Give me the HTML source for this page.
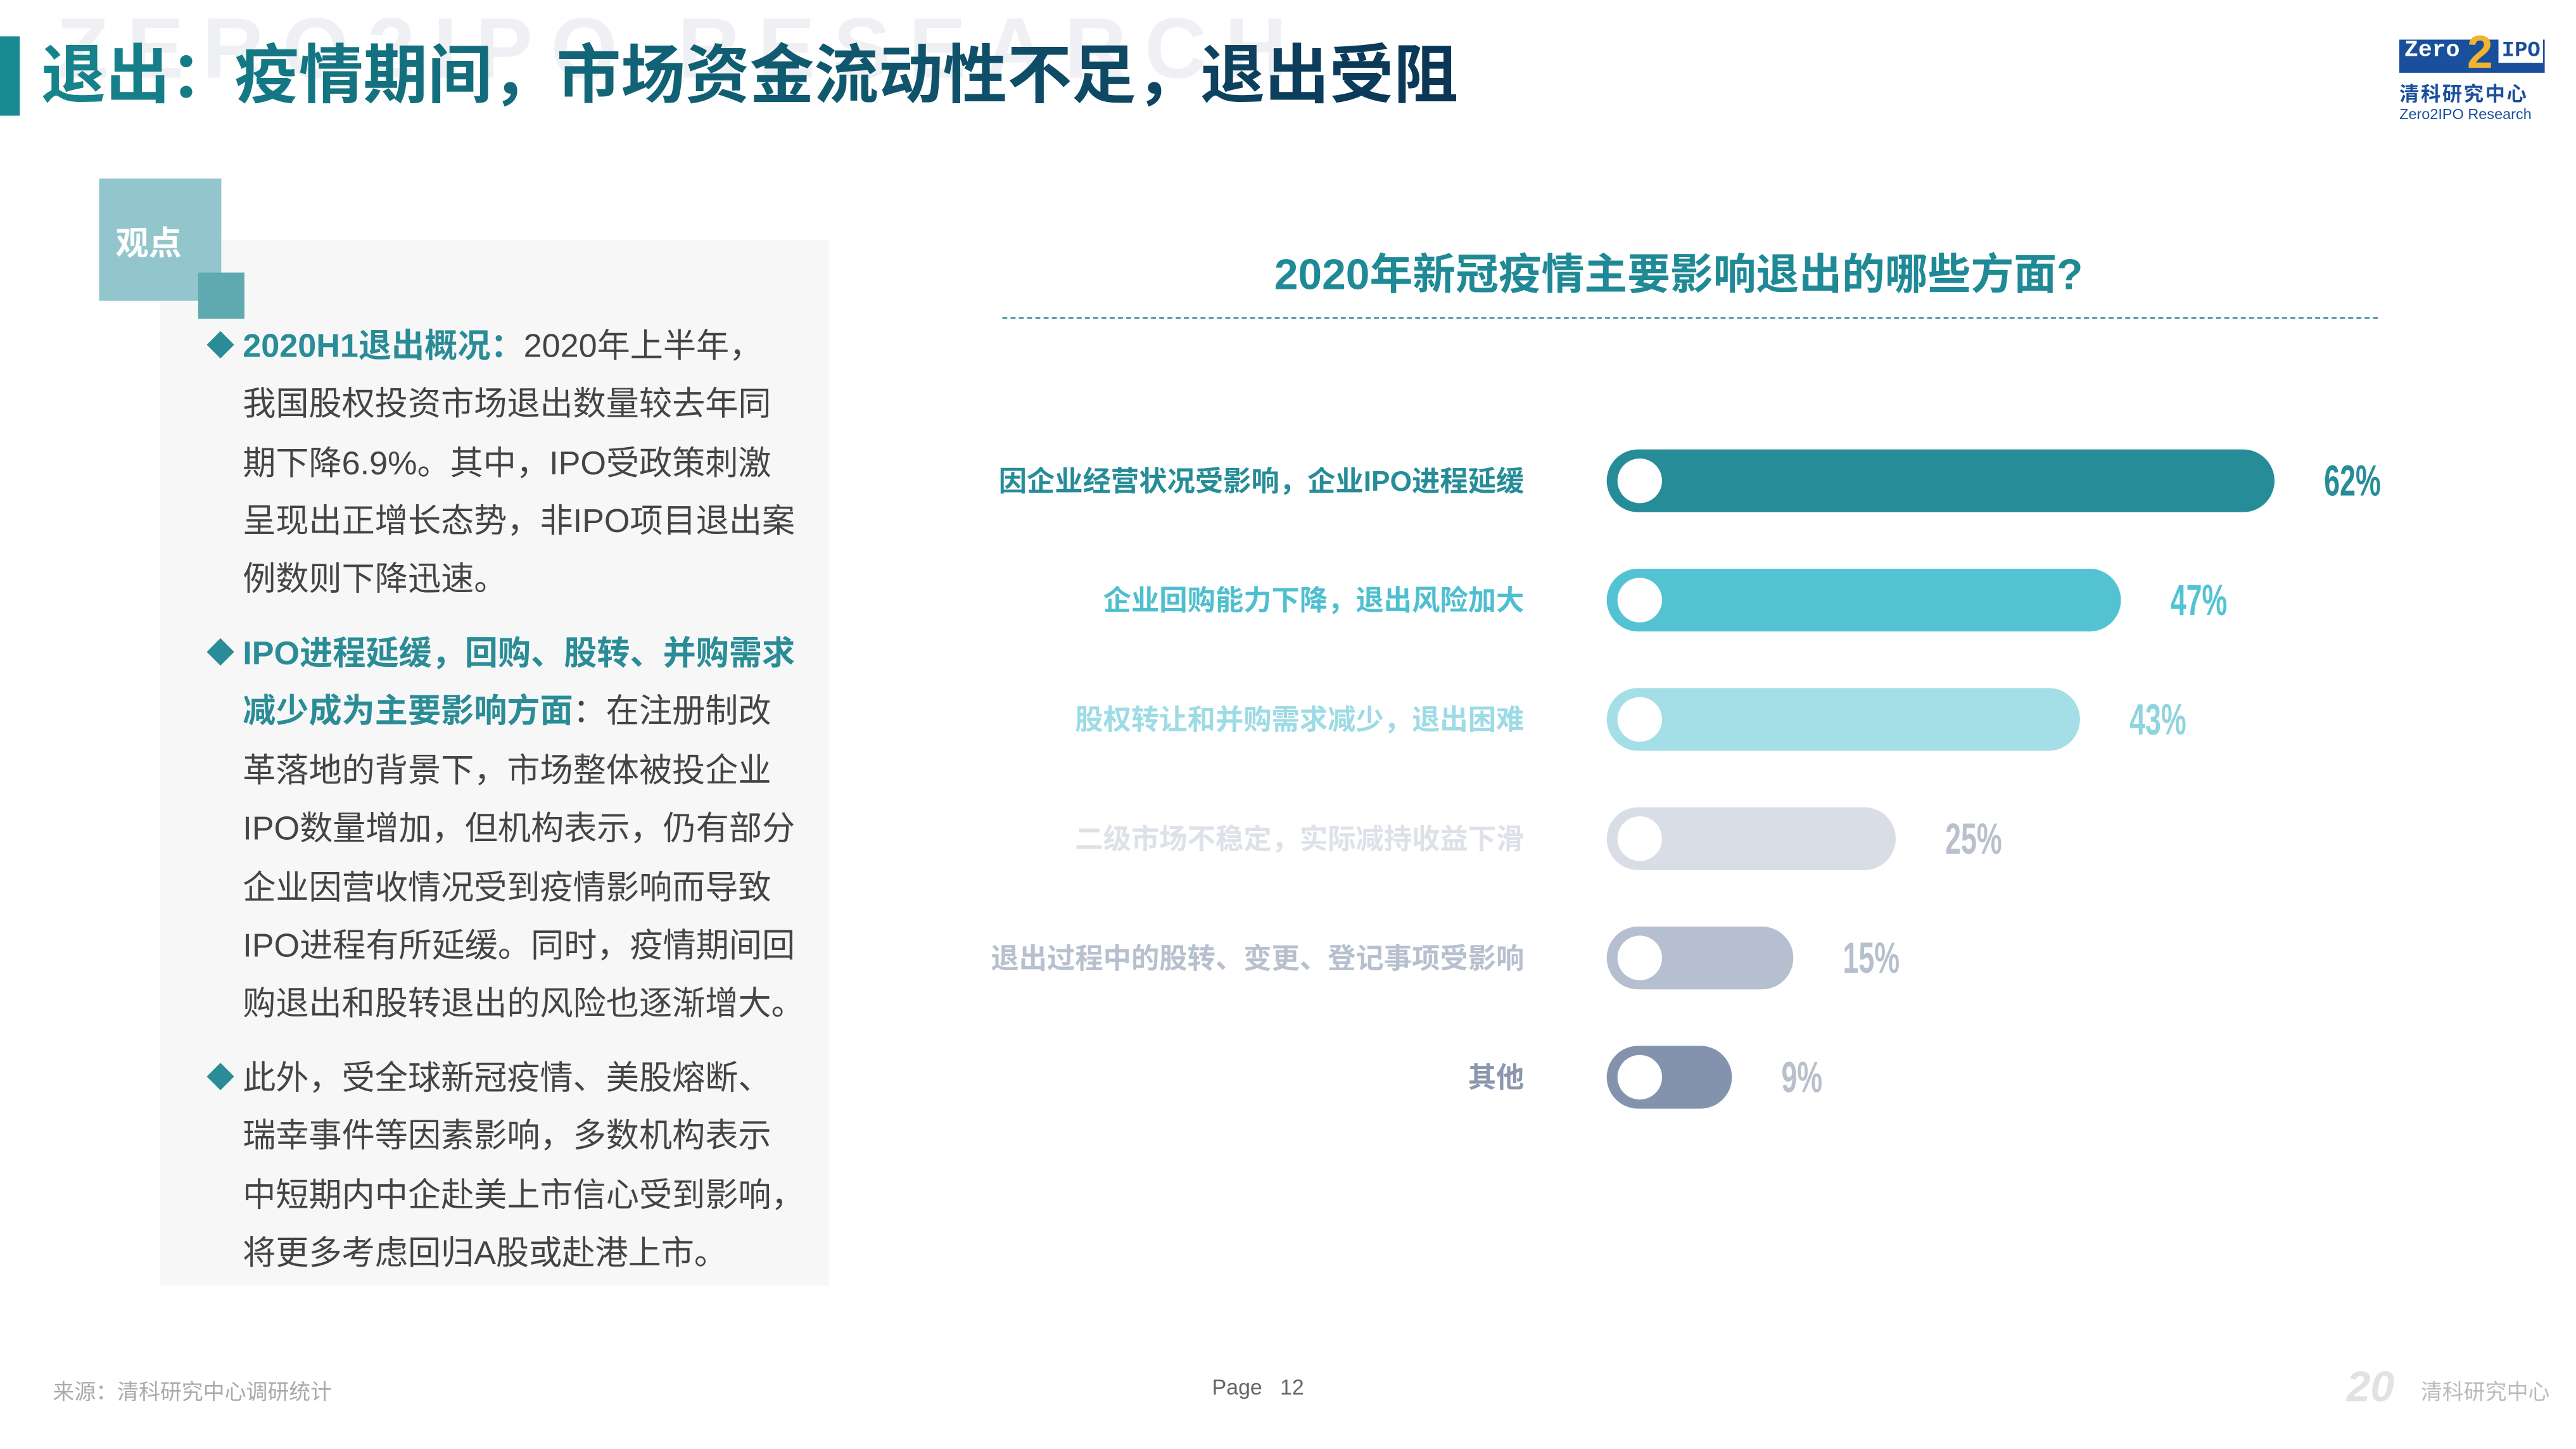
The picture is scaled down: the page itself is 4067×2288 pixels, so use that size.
<!DOCTYPE html>
<html><head><meta charset="utf-8"><style>
html,body{margin:0;padding:0;background:#fff;}
body{width:4067px;height:2288px;overflow:hidden;position:relative;}
#stage{position:absolute;left:0;top:0;width:1560px;height:877px;transform:scale(2.6071,2.6089);transform-origin:0 0;font-family:"Liberation Sans","Noto Sans CJK SC",sans-serif;}
.a{position:absolute;}
.ln{position:absolute;left:147px;font-size:20px;color:#444;white-space:nowrap;line-height:24px;}
.bl{position:absolute;left:125px;font-size:17px;color:#2a8c96;line-height:24px;}
.hl{color:#2a8c96;font-weight:bold;}
</style></head><body>
<div id="stage">
<div class="a" style="left:34px;top:0px;font-size:52px;font-weight:bold;color:#eef0f3;letter-spacing:11px;white-space:nowrap;">ZERO2IPO RESEARCH</div>
<div class="a" style="left:0;top:22px;width:12px;height:48px;background:#1a8a92;"></div>
<div class="a" style="left:25px;top:23px;font-size:39px;font-weight:bold;white-space:nowrap;line-height:48px;background:linear-gradient(90deg,#16848c,#0b3556);-webkit-background-clip:text;color:transparent;">退出：疫情期间，市场资金流动性不足，退出受阻</div>

<div class="a" style="left:1453px;top:22px;width:88px;height:54px;">
 <div class="a" style="left:0;top:2px;width:86px;height:18px;background:#1a4f9c;border:1px solid #1a4f9c;"></div>
 <div class="a" style="left:3px;top:1px;font:bold 14px 'Liberation Mono',monospace;color:#fff;">Zero</div>
 <div class="a" style="left:41px;top:-6px;font:bold 28px 'Liberation Sans',sans-serif;color:#f2b330;">2</div>
 <div class="a" style="left:60px;top:1px;background:#fff;padding:0 2px;font:bold 13px 'Liberation Mono',monospace;color:#1a4f9c;">IPO</div>
 <div class="a" style="left:0;top:26px;font-size:12px;font-weight:bold;color:#1a4f9c;white-space:nowrap;letter-spacing:1px;">清科研究中心</div>
 <div class="a" style="left:0;top:42px;font-size:9px;color:#1a4f9c;white-space:nowrap;">Zero2IPO Research</div>
</div>

<div class="a" style="left:97px;top:145px;width:405px;height:633px;background:#f7f7f7;"></div>
<div class="a" style="left:60px;top:108px;width:74px;height:74px;background:#93c6cc;"></div>
<div class="a" style="left:120px;top:165px;width:28px;height:28px;background:#5fa9b1;"></div>
<div class="a" style="left:70px;top:131px;font-size:20px;font-weight:bold;color:#fff;">观点</div>

<div class="bl" style="top:198px">◆</div>
<div class="ln" style="top:198px"><span class="hl">2020H1退出概况：</span>2020年上半年，</div>
<div class="ln" style="top:233px">我国股权投资市场退出数量较去年同</div>
<div class="ln" style="top:269px">期下降6.9%。其中，IPO受政策刺激</div>
<div class="ln" style="top:304px">呈现出正增长态势，非IPO项目退出案</div>
<div class="ln" style="top:339px">例数则下降迅速。</div>
<div class="bl" style="top:384px">◆</div>
<div class="ln" style="top:384px"><span class="hl">IPO进程延缓，回购、股转、并购需求</span></div>
<div class="ln" style="top:419px"><span class="hl">减少成为主要影响方面</span>：在注册制改</div>
<div class="ln" style="top:455px">革落地的背景下，市场整体被投企业</div>
<div class="ln" style="top:490px">IPO数量增加，但机构表示，仍有部分</div>
<div class="ln" style="top:526px">企业因营收情况受到疫情影响而导致</div>
<div class="ln" style="top:561px">IPO进程有所延缓。同时，疫情期间回</div>
<div class="ln" style="top:596px">购退出和股转退出的风险也逐渐增大。</div>
<div class="bl" style="top:641px">◆</div>
<div class="ln" style="top:641px">此外，受全球新冠疫情、美股熔断、</div>
<div class="ln" style="top:676px">瑞幸事件等因素影响，多数机构表示</div>
<div class="ln" style="top:712px">中短期内中企赴美上市信心受到影响，</div>
<div class="ln" style="top:747px">将更多考虑回归A股或赴港上市。</div>

<div class="a" style="left:600px;width:833px;top:146px;text-align:center;font-size:26px;font-weight:bold;color:#1f8a96;">2020年新冠疫情主要影响退出的哪些方面?</div>
<div class="a" style="left:607px;top:192px;width:833px;border-top:1.5px dashed #3b8f9c;"></div>

<svg class="a" id="chart" style="left:0;top:0" width="1560" height="877"></svg>

<div class="a" style="left:32px;top:832px;font-size:13px;color:#aaa;">来源：清科研究中心调研统计</div>
<div class="a" style="left:734px;top:832px;font-size:13px;color:#666;">Page&nbsp;&nbsp;&nbsp;12</div>
<div class="a" style="left:1421px;top:824px;font-size:26px;font-weight:bold;color:#e2e2e2;font-style:italic;">20</div>
<div class="a" style="left:1466px;top:832px;font-size:13px;color:#bbb;">清科研究中心</div>
</div>
<script>
const categories=["因企业经营状况受影响，企业IPO进程延缓","企业回购能力下降，退出风险加大","股权转让和并购需求减少，退出困难","二级市场不稳定，实际减持收益下滑","退出过程中的股转、变更、登记事项受影响","其他"];
const values=[62,47,43,25,15,9];
const valueLabels=["62%","47%","43%","25%","15%","9%"];
const barColors=["#268c98","#53c3d3","#a4dfe7","#d9dee6","#b5bfcf","#8493ad"];
const labelColors=["#268c98","#4fbfcf","#9ddbe5","#dde1e8","#b7c0ce","#8a97ae"];
const valColors=["#268c98","#53c3d3","#8fd4df","#b8c0cc","#b5bfcd","#b8c0cc"];
const NS="http://www.w3.org/2000/svg";
const svg=document.getElementById('chart');
const x0=973,bh=38;
function xw(v){return 20+6.2*v;}
function yc(i){return 291+i*72.2;}
categories.forEach((c,i)=>{
 const y=yc(i),w=xw(values[i]);
 const r=document.createElementNS(NS,'rect');
 
 
 r.setAttribute('x',x0);r.setAttribute('y',y-bh/2);r.setAttribute('width',w);r.setAttribute('height',bh);
 r.setAttribute('rx',bh/2);r.setAttribute('fill',barColors[i]);svg.appendChild(r);
 const ci=document.createElementNS(NS,'circle');
 
 
 ci.setAttribute('cx',x0+20);ci.setAttribute('cy',y);ci.setAttribute('r',13.5);ci.setAttribute('fill','#fff');svg.appendChild(ci);
 const t=document.createElementNS(NS,'text');
 
 
 t.setAttribute('x',923);t.setAttribute('y',y+6);t.setAttribute('text-anchor','end');
 t.setAttribute('font-size','17');t.setAttribute('font-weight','bold');t.setAttribute('fill',labelColors[i]);
 t.setAttribute('font-family','"Liberation Sans","Noto Sans CJK SC",sans-serif');
 t.textContent=c;svg.appendChild(t);
 const v=document.createElementNS(NS,'text');
 
 
 v.setAttribute('transform','translate('+(x0+w+30)+','+(y+9)+') scale(0.78,1.2)');
 v.setAttribute('font-size','22');v.setAttribute('font-weight','bold');v.setAttribute('fill',valColors[i]);
 v.setAttribute('font-family','"Liberation Sans",sans-serif');
 v.textContent=valueLabels[i];svg.appendChild(v);
});
</script>
</body></html>
